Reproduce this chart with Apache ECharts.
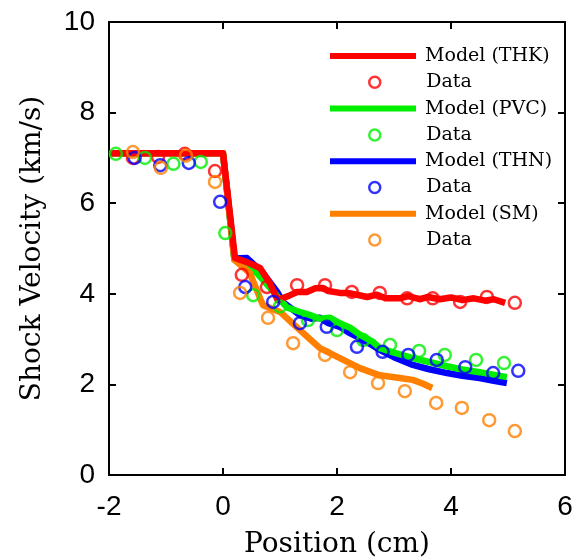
<html>
<head>
<meta charset="utf-8">
<title>Shock Velocity vs Position</title>
<script src="https://cdn.jsdelivr.net/npm/echarts@6/dist/echarts.min.js"></script>
</head>
<body style="margin:0;background:#fff">
<div id="main" style="width:587px;height:559px;"></div>
<script>
// model curves [position (cm), velocity (km/s)]
var modelTHK = [[-2,7.1],[0,7.1],[0.21,4.79],[0.42,4.7],[0.65,4.57],[0.82,4.24],[0.96,3.86],[1.18,3.97],[1.3,4.04],[1.47,4.04],[1.62,4.12],[1.75,4.13],[1.85,4.06],[2.05,4.02],[2.18,4.02],[2.35,3.98],[2.53,3.93],[2.7,3.98],[2.85,3.9],[3.1,3.9],[3.25,3.95],[3.45,3.88],[3.6,3.93],[3.8,3.88],[4.0,3.92],[4.2,3.86],[4.4,3.9],[4.6,3.85],[4.75,3.88],[4.95,3.8]];
var modelPVC = [[-2,7.1],[0,7.1],[0.2,4.75],[0.35,4.69],[0.6,4.45],[0.86,4.08],[1.12,3.7],[1.3,3.62],[1.53,3.53],[1.7,3.45],[1.88,3.47],[2.05,3.35],[2.23,3.25],[2.4,3.1],[2.63,2.94],[2.75,2.8],[3.0,2.7],[3.33,2.58],[3.6,2.5],[3.93,2.4],[4.2,2.33],[4.5,2.27],[4.98,2.16]];
var modelTHN = [[-2,7.1],[0,7.1],[0.2,4.78],[0.42,4.79],[0.7,4.46],[0.95,4.04],[1.05,3.82],[1.35,3.53],[1.55,3.45],[1.7,3.47],[1.85,3.35],[2.05,3.27],[2.2,3.15],[2.4,3.02],[2.6,2.88],[2.75,2.76],[3.0,2.6],[3.33,2.43],[3.6,2.34],[3.93,2.25],[4.2,2.19],[4.5,2.14],[4.75,2.08],[4.98,2.03]];
var modelSM = [[-2,7.1],[0,7.1],[0.2,4.75],[0.47,4.46],[0.7,3.75],[1.0,3.6],[1.35,3.2],[1.7,2.8],[2.05,2.58],[2.4,2.36],[2.75,2.2],[3.1,2.14],[3.33,2.1],[3.5,2.02],[3.67,1.92]];

// measured points
var dataTHK = [[-1.58,7.0],[-1.14,7.02],[-0.67,7.09],[-0.14,6.71],[0.33,4.42],[0.77,4.15],[1.3,4.19],[1.79,4.19],[2.26,4.04],[2.75,4.02],[3.23,3.9],[3.68,3.9],[4.16,3.82],[4.63,3.93],[5.12,3.8]];
var dataPVC = [[-1.88,7.09],[-1.37,7.0],[-0.87,6.87],[-0.39,6.91],[0.04,5.34],[0.53,3.97],[1.0,3.72],[1.49,3.42],[2.0,3.2],[2.46,2.98],[2.93,2.87],[3.44,2.74],[3.89,2.65],[4.44,2.54],[4.93,2.47]];
var dataTHN = [[-1.55,7.0],[-1.1,6.84],[-0.6,6.89],[-0.05,6.03],[0.39,4.15],[0.88,3.82],[1.35,3.35],[1.82,3.27],[2.35,2.83],[2.8,2.72],[3.25,2.65],[3.75,2.54],[4.25,2.38],[4.74,2.25],[5.18,2.3]];
var dataSM = [[-1.58,7.13],[-1.09,6.78],[-0.65,7.05],[-0.14,6.47],[0.3,4.02],[0.79,3.47],[1.23,2.91],[1.79,2.65],[2.23,2.27],[2.72,2.03],[3.19,1.85],[3.74,1.59],[4.19,1.48],[4.67,1.21],[5.12,0.97]];

var legendNames = ['Model (THK)','Data (THK)','Model (PVC)','Data (PVC)','Model (THN)','Data (THN)','Model (SM)','Data (SM)'];

var red = '#ff0000', green = '#00ee00', blue = '#0000ff', orange = '#ff8000';
var serif = 'DejaVu Serif';
var sans = 'Liberation Sans';

function model(name, d, c, z){
	return {name: name, type: 'line', data: d, symbol: 'none', z: z,
		lineStyle: {color: c, width: 6.5, join: 'round'}, itemStyle: {color: c}};
}
function pts(name, d, c){
	return {name: name, type: 'scatter', data: d, symbol: 'circle', symbolSize: 12, z: 6,
		itemStyle: {color: 'rgba(0,0,0,0)', borderColor: c, borderWidth: 2.5}};
}

// one legend per row so lines and circles get their own icon size
var legends = [];
for (var i = 0; i < legendNames.length; i++) {
	var isLine = legendNames[i].indexOf('Model') === 0;
	var cy = 56 + i * 26.3;
	var lg = {
		orient: 'vertical', top: cy - 10, padding: 0, selectedMode: false,
		textStyle: {fontFamily: serif, fontSize: 19, lineHeight: 20, color: '#000'},
		formatter: function(name){ return name.indexOf('Data') === 0 ? 'Data' : name; },
		data: [legendNames[i]]
	};
	if (isLine) {
		lg.left = 330; lg.icon = 'rect'; lg.itemWidth = 86; lg.itemHeight = 6;
		lg.textStyle.padding = [0,0,0,4];
	} else {
		// small circle centred under the line sample, text pushed to the same column
		lg.left = 368; lg.icon = 'circle'; lg.itemWidth = 11; lg.itemHeight = 11;
		lg.itemStyle = {color: 'rgba(0,0,0,0)', borderColor: 'inherit', borderWidth: 2.5};
		lg.textStyle.padding = [0,0,0,41];
	}
	legends.push(lg);
}

var myChart = echarts.init(document.getElementById('main'));
var axisLine = {show: true, onZero: false, lineStyle: {color: '#000', width: 2}};
var tick = {show: true, inside: true, length: 7, lineStyle: {color: '#000', width: 2}};
var option = {
	animation: false,
	grid: {left: 109, right: 22, top: 22, bottom: 84, outerBoundsMode: 'none'},
	legend: legends,
	xAxis: [{
		type: 'value', min: -2, max: 6, interval: 2,
		name: 'Position (cm)', nameLocation: 'middle', nameGap: 56,
		nameTextStyle: {fontFamily: serif, fontSize: 28, color: '#000'},
		axisLine: axisLine, axisTick: tick,
		axisLabel: {fontFamily: sans, fontSize: 28, color: '#000', margin: 18},
		splitLine: {show: false}
	},{
		type: 'value', position: 'top', min: -2, max: 6, interval: 2,
		axisLine: axisLine, axisTick: tick,
		axisLabel: {show: false}, splitLine: {show: false}
	}],
	yAxis: [{
		type: 'value', min: 0, max: 10, interval: 2,
		name: 'Shock Velocity (km/s)', nameLocation: 'middle', nameGap: 62,
		nameTextStyle: {fontFamily: serif, fontSize: 28, color: '#000'},
		axisLine: axisLine, axisTick: tick,
		axisLabel: {fontFamily: sans, fontSize: 28, color: '#000', margin: 14},
		splitLine: {show: false}
	},{
		type: 'value', position: 'right', min: 0, max: 10, interval: 2,
		axisLine: axisLine, axisTick: tick,
		axisLabel: {show: false}, splitLine: {show: false}
	}],
	series: [
		model('Model (THK)', modelTHK, red, 5),
		pts('Data (THK)', dataTHK, red),
		model('Model (PVC)', modelPVC, green, 3),
		pts('Data (PVC)', dataPVC, green),
		model('Model (THN)', modelTHN, blue, 2),
		pts('Data (THN)', dataTHN, blue),
		model('Model (SM)', modelSM, orange, 4),
		pts('Data (SM)', dataSM, orange)
	]
};
myChart.setOption(option);
</script>
</body>
</html>
